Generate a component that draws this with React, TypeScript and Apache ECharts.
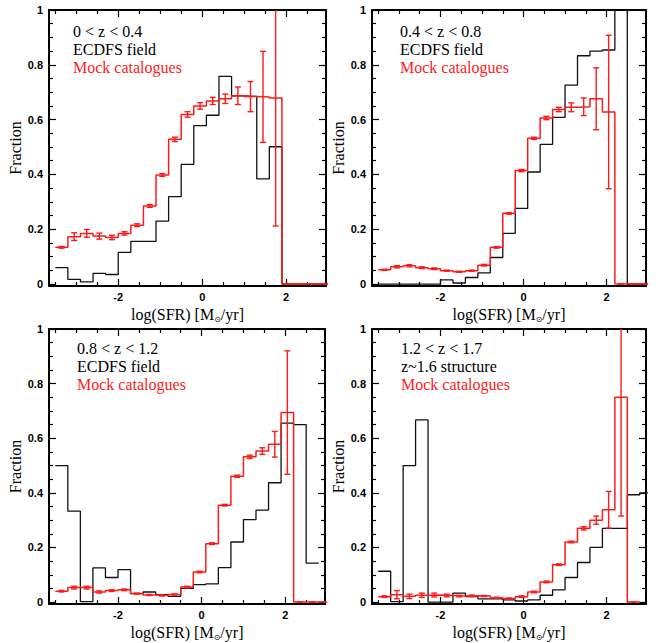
import React, { useEffect, useRef } from "react";
import * as echarts from "echarts";

// ---- data ----
const binStart = -3.5;
const binWidth = 0.3;
const xRange = [-3.65, 2.95];
const yRange = [-0.007, 1];

const xMajorTicks = [-2, 0, 2];
const xMinorTicks = [-3.5, -3, -2.5, -1.5, -1, -0.5, 0.5, 1, 1.5, 2.5];
const yMajorTicks = [0, 0.2, 0.4, 0.6, 0.8, 1];
const yMinorTicks = [0.05, 0.1, 0.15, 0.25, 0.3, 0.35, 0.45, 0.5, 0.55, 0.65, 0.7, 0.75, 0.85, 0.9, 0.95];

const redshiftLabels = ["0 < z < 0.4", "0.4 < z < 0.8", "0.8 < z < 1.2", "1.2 < z < 1.7"];
const sampleLabels = ["ECDFS field", "ECDFS field", "ECDFS field", "z~1.6 structure"];
const mockLabel = "Mock catalogues";
const xAxisTitle = ["log(SFR) [M", "⊙", "/yr]"];
const yAxisTitle = "Fraction";

// 22 bins: [-3.5,-3.2], [-3.2,-2.9], ... , [2.8,3.1]
const obsZ1 = [0.060, 0.017, 0.008, 0.039, 0.035, 0.116, 0.156, 0.156, 0.230, 0.319, 0.437, 0.578, 0.616, 0.758, 0.687, 0.685, 0.384, 0.501, 0, 0, 0, 0];
const mockZ1 = [0.134, 0.173, 0.185, 0.175, 0.170, 0.185, 0.215, 0.285, 0.398, 0.528, 0.619, 0.650, 0.668, 0.676, 0.687, 0.684, 0.683, 0.679, 0, 0, 0, 0];
const errZ1 = [0.003, 0.014, 0.014, 0.011, 0.008, 0.006, 0.005, 0.005, 0.005, 0.008, 0.010, 0.012, 0.013, 0.017, 0.032, 0.055, 0.166, 0.467, 0, 0, 0, 0];

const obsZ2 = [0, 0, 0, 0, 0, 0.015, 0.004, 0.024, 0.041, 0.097, 0.185, 0.276, 0.409, 0.510, 0.608, 0.726, 0.833, 0.850, 0.854, 1.1, 0, 0];
const mockZ2 = [0.052, 0.063, 0.067, 0.060, 0.056, 0.049, 0.045, 0.049, 0.069, 0.134, 0.258, 0.414, 0.532, 0.606, 0.637, 0.645, 0.647, 0.676, 0.628, 0, 0, 0];
const errZ2 = [0.002, 0.004, 0.004, 0.003, 0.003, 0.002, 0.002, 0.002, 0.003, 0.003, 0.003, 0.004, 0.004, 0.006, 0.008, 0.016, 0.032, 0.113, 0.280, 0, 0, 0];

const obsZ3 = [0.5, 0.333, 0.002, 0.125, 0.09, 0.119, 0.031, 0.037, 0.027, 0.021, 0.05, 0.064, 0.067, 0.126, 0.22, 0.302, 0.337, 0.437, 0.655, 0.65, 0.143, null];
const mockZ3 = [0.040, 0.053, 0.053, 0.037, 0.042, 0.045, 0.031, 0.026, 0.024, 0.028, 0.055, 0.110, 0.214, 0.355, 0.461, 0.532, 0.553, 0.578, 0.694, 0, 0, 0];
const errZ3 = [0.003, 0.005, 0.005, 0.004, 0.003, 0.003, 0.002, 0.002, 0.002, 0.002, 0.003, 0.003, 0.003, 0.003, 0.004, 0.006, 0.012, 0.047, 0.226, 0, 0, 0];

const obsZ4 = [0.113, 0.002, 0.5, 0.667, 0, 0, 0.033, 0.02, 0.012, 0.012, 0.008, 0.004, 0.008, 0.025, 0.045, 0.09, 0.145, 0.2, 0.27, 0.27, 0.393, 0.4];
const mockZ4 = [0.020, 0.027, 0.021, 0.025, 0.026, 0.024, 0.022, 0.023, 0.022, 0.016, 0.013, 0.020, 0.037, 0.074, 0.137, 0.220, 0.270, 0.300, 0.338, 0.750, 0, null];
const errZ4 = [0.003, 0.015, 0.008, 0.008, 0.007, 0.005, 0.003, 0.003, 0.002, 0.002, 0.002, 0.003, 0.003, 0.003, 0.003, 0.003, 0.006, 0.015, 0.067, 0.435, 0, 0];

const obsSeries = [obsZ1, obsZ2, obsZ3, obsZ4];
const mockSeries = [mockZ1, mockZ2, mockZ3, mockZ4];
const errSeries = [errZ1, errZ2, errZ3, errZ4];

// ---- layout ----
const grids = [
  { left: 49, top: 10, width: 277, height: 276 },
  { left: 372, top: 10, width: 274, height: 276 },
  { left: 49, top: 329, width: 276, height: 275 },
  { left: 372, top: 329, width: 274, height: 275 },
];
const textAnchors = [
  { x: 73, y: 31 },
  { x: 400, y: 31 },
  { x: 77, y: 348 },
  { x: 401, y: 348 },
];

const SERIF = "Liberation Serif";
const SANS = "Liberation Sans";
const RED = "#ff1a1a";
const BLACK = "#111";

function stepPoints(vals: (number | null)[]) {
  const pts: number[][] = [];
  vals.forEach((v, i) => {
    if (v === null) return;
    const a = binStart + binWidth * i;
    pts.push([a, v], [a + binWidth, v]);
  });
  return pts;
}

function errPoints(vals: (number | null)[], errs: number[]) {
  const pts: number[][] = [];
  vals.forEach((v, i) => {
    if (v === null) return;
    const c = binStart + binWidth * (i + 0.5);
    pts.push([c, v - errs[i], v + errs[i]]);
  });
  return pts;
}

function fmtY(v: number) {
  if (v === 0) return "0";
  if (v === 1) return "1";
  return v.toFixed(1);
}

function buildOption() {
  const xAxis: any[] = [];
  const yAxis: any[] = [];
  const series: any[] = [];
  const graphic: any[] = [];
  const tickStyle = { color: "#000", width: 1.2 };
  const lineStyle = { color: "#000", width: 2 };
  const frameLine = { show: true, onZero: false, lineStyle };
  const noLine = { show: false, onZero: false };

  grids.forEach((g, p) => {
    const base = { type: "value", gridIndex: p, min: xRange[0], max: xRange[1], splitLine: { show: false } };
    xAxis.push({
      ...base,
      position: "bottom",
      axisLine: frameLine,
      axisTick: { show: true, inside: true, length: 7, lineStyle: tickStyle, customValues: xMajorTicks },
      axisLabel: {
        show: true, customValues: xMajorTicks, margin: 5,
        fontFamily: SANS, fontWeight: "bold", fontSize: 11, color: "#000",
        formatter: (v: number) => String(v),
      },
      name: `{a|${xAxisTitle[0]}}{s|${xAxisTitle[1]}}{a|${xAxisTitle[2]}}`,
      nameLocation: "middle",
      nameGap: 19,
      nameTextStyle: {
        fontFamily: SERIF,
        fontSize: 16,
        rich: {
          a: { fontFamily: SERIF, fontSize: 16, color: "#000", lineHeight: 18 },
          s: { fontFamily: "DejaVu Sans", fontSize: 8, color: "#000", lineHeight: 4, verticalAlign: "bottom" },
        },
      },
    });
    xAxis.push({
      ...base, position: "bottom",
      axisLine: noLine,
      axisTick: { show: true, inside: true, length: 4, lineStyle: tickStyle, customValues: xMinorTicks },
      axisLabel: { show: false },
    });
    xAxis.push({
      ...base, position: "top",
      axisLine: frameLine,
      axisTick: { show: true, inside: true, length: 7, lineStyle: tickStyle, customValues: xMajorTicks },
      axisLabel: { show: false },
    });
    xAxis.push({
      ...base, position: "top",
      axisLine: noLine,
      axisTick: { show: true, inside: true, length: 4, lineStyle: tickStyle, customValues: xMinorTicks },
      axisLabel: { show: false },
    });

    const ybase = { type: "value", gridIndex: p, min: yRange[0], max: yRange[1], splitLine: { show: false } };
    yAxis.push({
      ...ybase, position: "left",
      axisLine: frameLine,
      axisTick: { show: true, inside: true, length: 7, lineStyle: tickStyle, customValues: yMajorTicks },
      axisLabel: {
        show: true, customValues: yMajorTicks, margin: 6,
        fontFamily: SANS, fontWeight: "bold", fontSize: 11, color: "#000",
        formatter: fmtY,
      },
      name: yAxisTitle,
      nameLocation: "middle",
      nameRotate: 90,
      nameGap: 23,
      nameTextStyle: { fontFamily: SERIF, fontSize: 16, color: "#000" },
    });
    yAxis.push({
      ...ybase, position: "left",
      axisLine: noLine,
      axisTick: { show: true, inside: true, length: 4, lineStyle: tickStyle, customValues: yMinorTicks },
      axisLabel: { show: false },
    });
    yAxis.push({
      ...ybase, position: "right",
      axisLine: frameLine,
      axisTick: { show: true, inside: true, length: 7, lineStyle: tickStyle, customValues: yMajorTicks },
      axisLabel: { show: false },
    });
    yAxis.push({
      ...ybase, position: "right",
      axisLine: noLine,
      axisTick: { show: true, inside: true, length: 4, lineStyle: tickStyle, customValues: yMinorTicks },
      axisLabel: { show: false },
    });

    const ax = p * 4;
    series.push({
      type: "line", xAxisIndex: ax, yAxisIndex: ax,
      data: stepPoints(obsSeries[p]), symbol: "none", clip: true,
      lineStyle: { color: BLACK, width: 1.3 }, silent: true, z: 3,
    });
    series.push({
      type: "line", xAxisIndex: ax, yAxisIndex: ax,
      data: stepPoints(mockSeries[p]), symbol: "none", clip: true,
      lineStyle: { color: RED, width: 1.5 }, silent: true, z: 4,
    });
    series.push({
      type: "custom", xAxisIndex: ax, yAxisIndex: ax, clip: true, silent: true, z: 5,
      data: errPoints(mockSeries[p], errSeries[p]),
      renderItem: (params: any, api: any) => {
        const x = api.value(0);
        const lo = api.coord([x, api.value(1)]);
        const hi = api.coord([x, api.value(2)]);
        const w = 3;
        const st = { stroke: RED, lineWidth: 1.4 };
        return {
          type: "group",
          children: [
            { type: "line", shape: { x1: lo[0], y1: lo[1], x2: hi[0], y2: hi[1] }, style: st },
            { type: "line", shape: { x1: lo[0] - w, y1: lo[1], x2: lo[0] + w, y2: lo[1] }, style: st },
            { type: "line", shape: { x1: hi[0] - w, y1: hi[1], x2: hi[0] + w, y2: hi[1] }, style: st },
          ],
        };
      },
    });

    const t = textAnchors[p];
    const lines = [
      { text: redshiftLabels[p], fill: "#000" },
      { text: sampleLabels[p], fill: "#000" },
      { text: mockLabel, fill: RED },
    ];
    lines.forEach((l, i) => {
      graphic.push({
        type: "text", x: t.x, y: t.y + i * 18, silent: true,
        style: { text: l.text, fill: l.fill, font: `16px "${SERIF}"`, verticalAlign: "middle", align: "left" },
      });
    });
  });

  return {
    animation: false,
    backgroundColor: "#fff",
    grid: grids.map((g) => ({ ...g, containLabel: false })),
    xAxis,
    yAxis,
    series,
    graphic,
  };
}

export default function App() {
  const ref = useRef<HTMLDivElement>(null);
  useEffect(() => {
    if (!ref.current) return;
    const chart = echarts.init(ref.current, null, { renderer: "svg" });
    chart.setOption(buildOption() as any);
    return () => chart.dispose();
  }, []);
  return (
    <div
      ref={ref}
      style={{ position: "absolute", left: 0, top: 0, width: 659, height: 643, background: "#fff" }}
    />
  );
}
